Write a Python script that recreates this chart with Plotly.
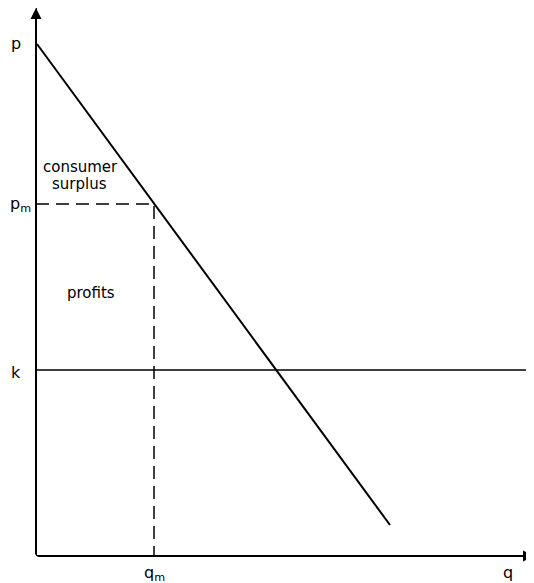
import plotly.graph_objects as go

# demand curve end points (q, p)
demand_q = [0.1, 35.4]
demand_p = [51.2, 3.1]

# monopoly point and cost level
q_m = 11.8
p_m = 35.2
k = 18.6

q_max = 49.8
p_max = 54.8

FONT = "DejaVu Sans"

fig = go.Figure()

fig.add_trace(go.Scatter(x=demand_q, y=demand_p, mode="lines",
                         line=dict(color="black", width=2), hoverinfo="skip"))
fig.add_trace(go.Scatter(x=[0, q_max], y=[k, k], mode="lines",
                         line=dict(color="black", width=1.5), hoverinfo="skip"))
fig.add_trace(go.Scatter(x=[0, q_m, q_m], y=[p_m, p_m, 0], mode="lines",
                         line=dict(color="black", width=1.5, dash="13px,7px"),
                         hoverinfo="skip"))

# axis arrows
fig.add_annotation(x=0, y=p_max, ax=0, ay=0, xref="x", yref="y", axref="x", ayref="y",
                   showarrow=True, arrowhead=2, arrowsize=1.1, arrowwidth=2,
                   arrowcolor="black", text="")
fig.add_annotation(x=q_max, y=0, ax=0, ay=0, xref="x", yref="y", axref="x", ayref="y",
                   showarrow=True, arrowhead=2, arrowsize=1.1, arrowwidth=2,
                   arrowcolor="black", text="")

labels = [
    ("p", 0, demand_p[0], -20, 1),
    ("p<sub>m</sub>", 0, p_m, -16, 0),
    ("k", 0, k, -20, -2),
]
for txt, x, y, dx, dy in labels:
    fig.add_annotation(x=x, y=y, text=txt, showarrow=False, xshift=dx, yshift=dy,
                       font=dict(family=FONT, size=16, color="black"))

fig.add_annotation(x=q_m, y=0, text="q<sub>m</sub>", showarrow=False, yshift=-17,
                   font=dict(family=FONT, size=16, color="black"))
fig.add_annotation(x=q_max, y=0, text="q", showarrow=False, xshift=-26, yshift=-16,
                   font=dict(family=FONT, size=16, color="black"))

# region labels
fig.add_annotation(x=4.4, y=38.9, text="consumer", showarrow=False,
                   font=dict(family=FONT, size=15, color="black"))
fig.add_annotation(x=4.3, y=37.2, text="surplus", showarrow=False,
                   font=dict(family=FONT, size=15, color="black"))
fig.add_annotation(x=5.5, y=26.3, text="profits", showarrow=False,
                   font=dict(family=FONT, size=15, color="black"))

fig.update_xaxes(range=[0, q_max], visible=False, fixedrange=True)
fig.update_yaxes(range=[0, p_max], visible=False, fixedrange=True)

# axis lines
fig.add_shape(type="line", x0=0, x1=q_max, y0=0, y1=0, xref="x", yref="y",
              line=dict(color="black", width=2))
fig.add_shape(type="line", x0=0, x1=0, y0=0, y1=p_max, xref="x", yref="y",
              line=dict(color="black", width=2))

# page body adds an 8px offset, so the figure is shrunk to fit the window
fig.update_layout(width=526, height=575, showlegend=False,
                  margin=dict(l=28, r=0, t=0, b=27, autoexpand=False),
                  plot_bgcolor="white", paper_bgcolor="white")

fig.write_html("out.html")
